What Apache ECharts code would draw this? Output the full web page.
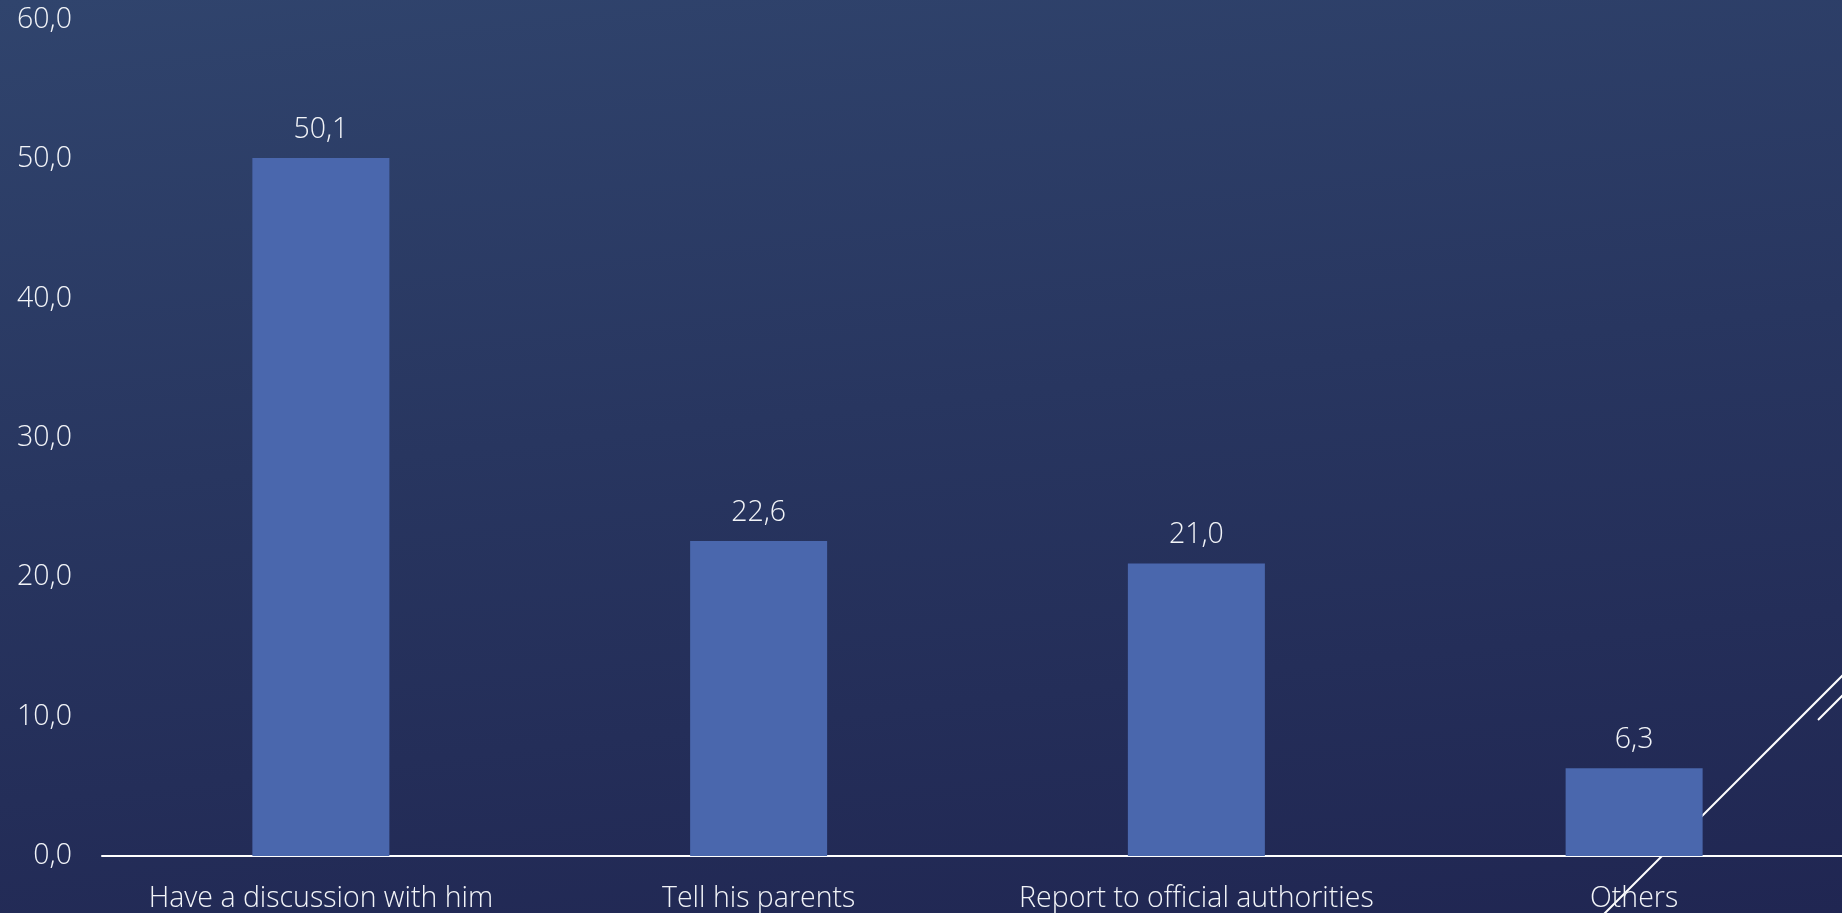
<!DOCTYPE html>
<html>
<head>
<meta charset="utf-8">
<script src="https://cdn.jsdelivr.net/npm/echarts@6/dist/echarts.min.js"></script>
<style>
html,body{margin:0;padding:0;width:1842px;height:913px;overflow:hidden;
background:linear-gradient(174deg,#30446d 0%,#283660 45%,#202652 100%);}
#c{width:1853px;height:913px;}
</style>
</head>
<body>
<div id="c"></div>
<script>
const categories = ["Have a discussion with him", "Tell his parents", "Report to official authorities", "Others"];
const values = [50.1, 22.6, 21.0, 6.3];
const yTicks = { min: 0, max: 60, interval: 10 };

const fmt = v => Number(v).toFixed(1).replace('.', ',');
const FONT = '"Open Sans", "Noto Sans", sans-serif';
const TXT = '#f2f4f8';

const chart = echarts.init(document.getElementById('c'), null, {renderer: 'canvas'});
chart.setOption({
  backgroundColor: 'transparent',
  animation: false,
  grid: { left: 102, right: 0, top: 20, bottom: 57, containLabel: false },
  xAxis: {
    type: 'category',
    data: categories,
    axisLine: { show: true, lineStyle: { color: '#ffffff', width: 2 } },
    axisTick: { show: false },
    axisLabel: { interval: 0, hideOverlap: false, color: TXT, fontFamily: FONT, fontWeight: 300, fontSize: 28.5, margin: 28 },
    splitLine: { show: false }
  },
  yAxis: {
    type: 'value',
    min: yTicks.min, max: yTicks.max, interval: yTicks.interval,
    axisLine: { show: false },
    axisTick: { show: false },
    splitLine: { show: false },
    axisLabel: { color: TXT, fontFamily: FONT, fontWeight: 300, fontSize: 28.5, margin: 30, formatter: fmt }
  },
  series: [{
    type: 'bar',
    data: values,
    barWidth: 137,
    itemStyle: { color: '#4a67ad' },
    label: { show: true, position: 'top', distance: 14, color: TXT, fontFamily: FONT, fontWeight: 300, fontSize: 28.5, formatter: p => fmt(p.value) }
  }],
  graphic: [
    { type: 'line', z: -1, shape: { x1: 1590, y1: 928, x2: 1860, y2: 658 }, style: { stroke: '#ffffff', lineWidth: 2 } },
    { type: 'line', z: -1, shape: { x1: 1818, y1: 720, x2: 1860, y2: 678 }, style: { stroke: '#ffffff', lineWidth: 2 } }
  ]
});
</script>
</body>
</html>
